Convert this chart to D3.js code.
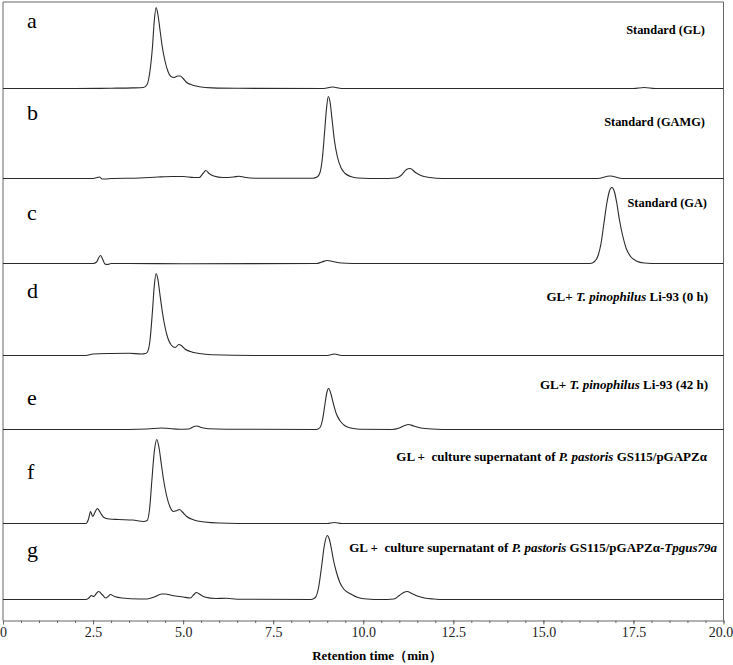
<!DOCTYPE html>
<meta charset="utf-8">
<style>
body { margin: 0; background: #fff; }
.label { font-weight: bold; white-space: pre; }
.letter { font-size: 22px; }
.axis path, .axis line { stroke: #666; }
</style>
<body>
<script src="https://d3js.org/d3.v7.min.js"></script>
<script>

// retention time (min), signal above the trace baseline
var traceA = [[0,0],[2.0,0],[3.0,0.3],[3.6,0.6],[3.9,1],[4.0,4],[4.07,15],[4.15,42],[4.2,68],[4.25,81],[4.3,74],[4.36,58],[4.42,42],[4.5,27],[4.58,17],[4.66,12],[4.75,11],[4.85,12.5],[4.92,12.5],[5.0,10],[5.1,6],[5.25,3.5],[5.45,1.8],[5.8,0.6],[6.5,0.2],[8.9,0],[9.15,1.5],[9.4,0],[17.5,0],[17.8,1],[18.1,0],[20,0]];
var traceB = [[0,0],[2.5,0],[2.68,1.5],[2.75,-0.5],[2.85,-0.5],[3.0,0],[3.8,0.5],[4.3,1.5],[4.7,2],[5.0,2],[5.3,1],[5.45,1],[5.55,5],[5.63,8],[5.72,5],[5.85,2.5],[6.1,1],[6.4,1.5],[6.55,2.3],[6.7,1.2],[7.0,0.3],[8.6,0.3],[8.72,1.5],[8.8,6],[8.87,22],[8.93,48],[8.98,70],[9.03,82],[9.08,76],[9.14,57],[9.2,38],[9.28,22],[9.38,11],[9.5,5],[9.65,2],[9.85,0.5],[10.5,0],[10.9,0.5],[11.05,3],[11.2,9],[11.3,10],[11.45,6],[11.6,3],[11.85,1],[12.2,0],[16.5,0],[16.85,2.5],[17.2,0],[20,0]];
var traceC = [[0,0],[2.5,0],[2.6,1.5],[2.66,6],[2.71,8],[2.77,4],[2.83,-0.5],[2.9,-1],[3.0,0],[3.5,0],[5.0,-0.3],[8.7,0],[8.85,1.5],[9.0,3],[9.15,2],[9.4,0.5],[10,0],[16.3,0],[16.42,2],[16.52,8],[16.6,20],[16.68,40],[16.76,60],[16.83,72],[16.9,76],[16.97,72],[17.04,60],[17.11,44],[17.2,28],[17.3,15],[17.42,7],[17.58,2.5],[17.8,0.5],[18.2,0],[20,0]];
var traceD = [[0,0],[2.3,0],[2.5,1.5],[3.0,2],[3.5,2.2],[3.85,1.5],[3.95,2],[4.0,3],[4.08,15],[4.15,45],[4.2,70],[4.25,82],[4.3,76],[4.36,60],[4.43,42],[4.5,28],[4.58,17],[4.68,10],[4.78,8],[4.88,11],[4.95,10],[5.05,6.5],[5.2,4],[5.45,2],[5.8,0.8],[7.0,0],[9.0,0],[9.2,1.5],[9.4,0],[20,0]];
var traceE = [[0,0],[3.0,0],[4.0,0.5],[4.4,1.5],[4.55,1.2],[4.9,0.3],[5.15,0.5],[5.3,3],[5.38,3.5],[5.5,2],[5.7,0.8],[6.2,0.3],[8.7,0],[8.8,2],[8.87,10],[8.94,26],[8.99,37],[9.04,41],[9.1,36],[9.17,26],[9.25,16],[9.35,9],[9.48,4],[9.65,1.5],[9.9,0.3],[10.8,0],[11.0,1.5],[11.15,4],[11.25,5],[11.4,3.5],[11.6,1.5],[11.9,0.5],[12.5,0],[20,0]];
var traceF = [[0,0],[2.3,0],[2.37,4],[2.43,12],[2.49,7],[2.55,11],[2.62,15],[2.7,11],[2.8,6],[2.95,4.5],[3.2,4],[3.6,3.5],[3.9,2],[4.0,3],[4.07,15],[4.13,42],[4.2,72],[4.27,84],[4.33,76],[4.4,58],[4.46,43],[4.54,28],[4.63,17],[4.73,12],[4.83,13],[4.9,14],[4.98,11.5],[5.1,7],[5.3,3.5],[5.6,1.5],[6.0,0.5],[7.0,0],[9.0,0],[9.2,1],[9.4,0],[20,0]];
var traceG = [[0,0],[2.3,0],[2.4,2],[2.45,4],[2.52,3],[2.6,6.5],[2.66,8],[2.75,5],[2.85,1.5],[2.92,3],[2.98,5],[3.1,3],[3.3,1.5],[3.8,0.5],[4.0,0.5],[4.2,2.5],[4.4,5.5],[4.5,5.5],[4.7,4],[5.0,2.5],[5.2,1.5],[5.3,5],[5.37,7],[5.45,5.5],[5.6,2.5],[5.9,1],[6.2,1.2],[6.5,0.3],[8.55,0],[8.67,2],[8.76,12],[8.84,32],[8.92,54],[9.0,64],[9.06,60],[9.12,50],[9.17,40],[9.25,28],[9.35,17],[9.47,10],[9.63,6],[9.85,2],[10.1,0.5],[10.5,0],[10.85,0.5],[11.0,4],[11.12,7],[11.22,8],[11.35,6],[11.5,3.5],[11.7,1.5],[11.95,0.5],[12.3,0],[20,0]];

var traces = [traceA, traceB, traceC, traceD, traceE, traceF, traceG];
// vertical stacking offset of each trace
var offsets = [532, 442, 357, 265, 191, 97, 21];
var letters = ["a", "b", "c", "d", "e", "f", "g"];
// label pieces: [text, italic?]
var labels = [
  [["Standard (GL)", false]],
  [["Standard (GAMG)", false]],
  [["Standard (GA)", false]],
  [["GL+ ", false], ["T. pinophilus", true], [" Li-93 (0 h)", false]],
  [["GL+ ", false], ["T. pinophilus", true], [" Li-93 (42 h)", false]],
  [["GL +  culture supernatant of ", false], ["P. pastoris", true], [" GS115/pGAPZα", false]],
  [["GL +  culture supernatant of ", false], ["P. pastoris", true], [" GS115/pGAPZα-", false], ["Tpgus79a", true]]
];
var majorTicks = [0, 2.5, 5, 7.5, 10, 12.5, 15, 17.5, 20];

// layout of the text in each panel
var letterY = [28, 120, 220, 298, 405, 479, 557];
var labelY = [34, 126, 207, 301, 389, 461, 552];
var labelX = [705, 705, 707, 708, 708, 707, 717];
var labelSize = [12.4, 12.4, 12.4, 13, 13, 13, 13];

var serif = "'Liberation Serif', 'Times New Roman', Times, serif";
var width = 733, height = 665;

var svg = d3.select("body").append("svg")
    .attr("width", width)
    .attr("height", height);

var x = d3.scaleLinear().domain([0, 20]).range([3, 723.5]);
var y = d3.scaleLinear().domain([0, 618.5]).range([620.5, 2]);

// frame (left, top, right)
svg.append("path")
    .attr("d", "M3,620.5V2H723.5V620.5")
    .attr("fill", "none")
    .attr("stroke", "#666")
    .attr("stroke-width", 1);

var line = d3.line()
    .x(function(d) { return x(d[0]); })
    .y(function(d) { return d[1]; })
    .curve(d3.curveMonotoneX);

traces.forEach(function(tr, i) {
  var pts = tr.map(function(p) { return [p[0], y(offsets[i] + p[1])]; });
  svg.append("path")
      .attr("d", line(pts))
      .attr("fill", "none")
      .attr("stroke", "#2a2a2a")
      .attr("stroke-width", 1.1);

  svg.append("text")
      .attr("class", "letter")
      .style("font-family", serif)
      .attr("x", 27)
      .attr("y", letterY[i])
      .text(letters[i]);

  var t = svg.append("text")
      .attr("class", "label")
      .style("font-family", serif)
      .style("font-size", labelSize[i] + "px")
      .attr("text-anchor", "end")
      .attr("x", labelX[i])
      .attr("y", labelY[i]);
  labels[i].forEach(function(p) {
    t.append("tspan")
        .style("font-style", p[1] ? "italic" : "normal")
        .text(p[0]);
  });
});

// minor ticks
svg.append("g")
    .attr("class", "axis")
    .attr("transform", "translate(0,620.5)")
    .call(d3.axisBottom(x).tickValues(d3.range(0, 20.01, 0.5)).tickSize(2.5).tickFormat(""))
    .select(".domain").remove();

// x axis
var xAxis = svg.append("g")
    .attr("class", "axis")
    .attr("transform", "translate(0,620.5)")
    .call(d3.axisBottom(x).tickValues(majorTicks).tickSize(4).tickSizeOuter(0)
      .tickFormat(function(d) { return d === 0 ? "0" : d.toFixed(1); }));

xAxis.selectAll("text")
    .style("font-family", serif)
    .style("font-size", "14px")
    .style("fill", "#222")
    .attr("dx", function(d) { return d === 20 ? "-3px" : null; });

// x label
svg.append("text")
    .attr("x", 377)
    .attr("y", 660)
    .attr("text-anchor", "middle")
    .style("font-family", serif)
    .style("font-size", "13px")
    .style("font-weight", "bold")
    .text("Retention time（min）");

</script>
</body>
